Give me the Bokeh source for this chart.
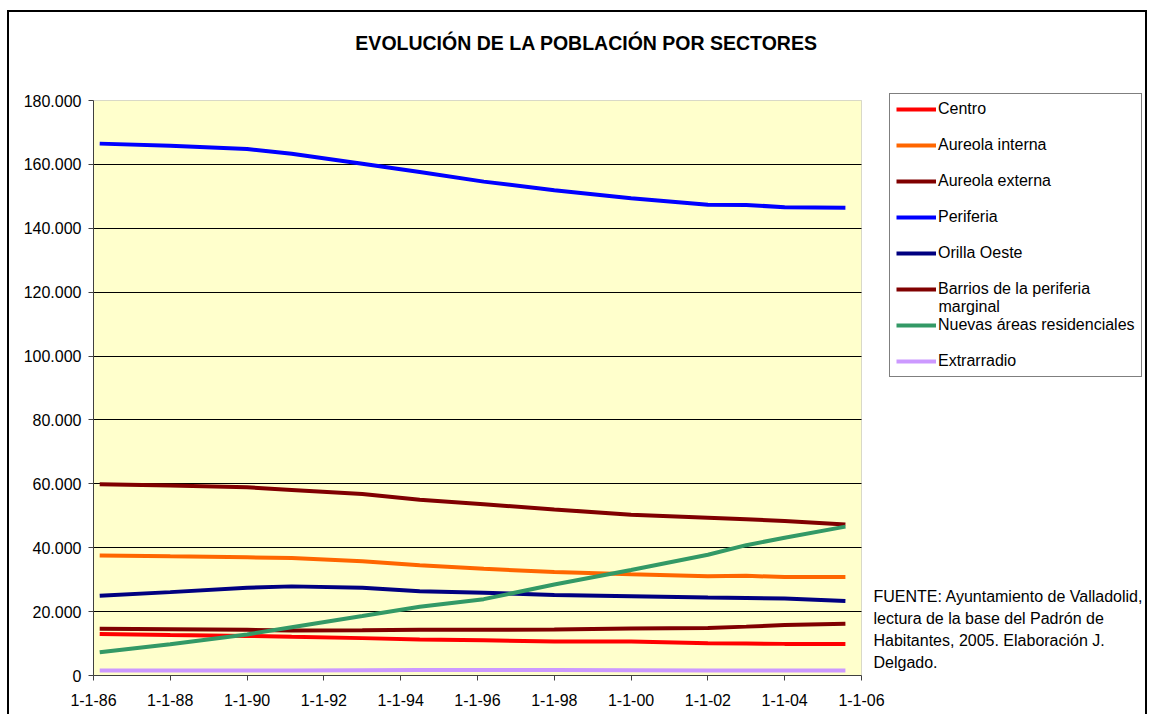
import pandas as pd
from bokeh.plotting import figure
from bokeh.models import (FixedTicker, Legend, LegendItem, Label, Range1d,
                          ColumnDataSource, BoxAnnotation)
from bokeh.embed import file_html
from bokeh.resources import INLINE

# ---------------- data ----------------
dates = ["1986-03-01", "1988-01-01", "1990-01-01", "1991-03-01", "1993-01-01",
         "1994-07-01", "1996-03-01", "1998-01-01", "2000-01-01", "2002-01-01",
         "2003-01-01", "2004-01-01", "2005-08-01"]

centro = [13000, 12700, 12400, 12100, 11700, 11300, 11000, 10650, 10650, 10100, 10000, 9900, 9850]
aureola_interna = [37600, 37300, 37000, 36800, 35800, 34500, 33400, 32400, 31700, 31100, 31200, 30800, 30850]
aureola_externa = [59900, 59500, 58900, 58100, 56800, 55000, 53600, 52000, 50300, 49400, 48900, 48400, 47300]
periferia = [166500, 165800, 164800, 163300, 160200, 157600, 154600, 151900, 149400, 147400, 147300, 146600, 146400]
orilla_oeste = [24950, 26100, 27500, 27900, 27500, 26400, 25900, 25200, 24800, 24400, 24250, 24100, 23300]
barrios = [14600, 14500, 14300, 14100, 14200, 14300, 14300, 14400, 14700, 14900, 15300, 15800, 16200]
nuevas = [7300, 9800, 12850, 15100, 18600, 21500, 23900, 28500, 33000, 37800, 40800, 43100, 46600]
extrarradio = [1600, 1600, 1600, 1600, 1650, 1700, 1700, 1700, 1650, 1600, 1600, 1600, 1600]

series_values = [centro, aureola_interna, aureola_externa, periferia, orilla_oeste,
                 barrios, nuevas, extrarradio]
# legend texts (the long one wraps onto a second line, "marginal")
legend_labels = ["Centro", "Aureola interna", "Aureola externa", "Periferia", "Orilla Oeste",
                 "Barrios de la periferia", "Nuevas áreas residenciales", "Extrarradio"]
legend_wrap_text = "marginal"
series_colors = ["#FF0000", "#FF6600", "#800000", "#0000FF", "#000080",
                 "#800000", "#339966", "#CC99FF"]

x_tick_dates = ["1986-01-01", "1988-01-01", "1990-01-01", "1992-01-01", "1994-01-01",
                "1996-01-01", "1998-01-01", "2000-01-01", "2002-01-01", "2004-01-01", "2006-01-01"]
x_tick_labels = ["1-1-86", "1-1-88", "1-1-90", "1-1-92", "1-1-94", "1-1-96",
                 "1-1-98", "1-1-00", "1-1-02", "1-1-04", "1-1-06"]
y_ticks = [0, 20000, 40000, 60000, 80000, 100000, 120000, 140000, 160000, 180000]
y_tick_labels = ["0", "20.000", "40.000", "60.000", "80.000", "100.000",
                 "120.000", "140.000", "160.000", "180.000"]

title_text = "EVOLUCIÓN DE LA POBLACIÓN POR SECTORES"
source_text = ("FUENTE: Ayuntamiento de Valladolid,\nlectura de la base del Padrón de\n"
               "Habitantes, 2005. Elaboración J.\nDelgado.")

FONT = "Liberation Sans"

# ---------------- layout constants (pixels) ----------------
W, H = 1140, 704
BORDER_L, BORDER_B = 84, 41
PLOT_W, PLOT_H = 768, 575          # the yellow plotting area
FRAME_W = W - BORDER_L             # frame covers everything right of the y axis
FRAME_H = H - BORDER_B             # ... and everything above the x axis

# ---------------- figure ----------------
x_dt = pd.to_datetime(dates)
tick_ms = [pd.Timestamp(d).value / 1e6 for d in x_tick_dates]
x0, x1 = tick_ms[0], tick_ms[-1]
y0, y1 = y_ticks[0], y_ticks[-1]
x_end = x0 + (x1 - x0) * FRAME_W / PLOT_W
y_end = y0 + (y1 - y0) * FRAME_H / PLOT_H

p = figure(width=W, height=H, x_axis_type="datetime",
           output_backend="svg", toolbar_location=None,
           x_range=Range1d(x0, x_end), y_range=Range1d(y0, y_end),
           min_border_left=BORDER_L, min_border_top=0,
           min_border_bottom=BORDER_B, min_border_right=0)
p.styles = {"border": "2px solid black", "border-bottom": "0px",
            "margin-left": "7px", "margin-top": "10px"}

p.background_fill_color = "white"
p.border_fill_color = "white"
p.outline_line_color = None

# plotting area (yellow, gray border)
p.add_layout(BoxAnnotation(left=x0, right=x1, bottom=y0, top=y1,
                           fill_color="#FFFFCC", fill_alpha=1,
                           line_color="#808080", line_width=1, level="image"))

# grid
p.xgrid.grid_line_color = None
p.ygrid.grid_line_color = "black"
p.ygrid.grid_line_width = 1
p.ygrid.ticker = FixedTicker(ticks=y_ticks[:-1])
p.ygrid.cross_bounds = (x0, x1)

# axes
p.xaxis.ticker = FixedTicker(ticks=tick_ms)
p.xaxis.major_label_overrides = {t: l for t, l in zip(tick_ms, x_tick_labels)}
p.xaxis.bounds = (x0, x1)
p.yaxis.ticker = FixedTicker(ticks=y_ticks)
p.yaxis.major_label_overrides = {t: l for t, l in zip(y_ticks, y_tick_labels)}
p.yaxis.bounds = (y0, y1)
for ax in (p.xaxis, p.yaxis):
    ax.axis_line_color = "#404040"
    ax.axis_line_width = 1
    ax.major_tick_line_color = "#404040"
    ax.major_tick_out = 5
    ax.major_tick_in = 0
    ax.minor_tick_line_color = None
    ax.major_label_text_font = FONT
    ax.major_label_text_font_size = "16px"
    ax.major_label_text_color = "black"
p.xaxis.major_label_standoff = 13
p.yaxis.major_label_standoff = 7

# lines
items = []
for name, vals, col in zip(legend_labels, series_values, series_colors):
    src = ColumnDataSource(dict(x=x_dt, y=vals))
    r = p.line("x", "y", source=src, line_color=col, line_width=4)
    items.append(LegendItem(label=name, renderers=[r]))

# title (inside the frame area, above the plotting area)
p.add_layout(Label(x=493, y=633, x_units="screen", y_units="screen", text=title_text,
                   text_font=FONT, text_font_size="19.5px", text_font_style="bold",
                   text_align="center", text_baseline="middle", text_color="black"))

# legend sits on the white area, so its own fill can stay transparent
legend = Legend(items=items, location=(796, 298),
                label_text_font=FONT, label_text_font_size="16px",
                label_text_color="black",
                glyph_width=40, glyph_height=18, label_height=18,
                spacing=18, padding=6, margin=0, label_standoff=2,
                border_line_color="black", border_line_width=1,
                background_fill_alpha=0)
p.add_layout(legend)

# second line of the wrapped legend entry
p.add_layout(Label(x=845, y=369, x_units="screen", y_units="screen", text=legend_wrap_text,
                   text_font=FONT, text_font_size="16px", text_align="left",
                   text_baseline="middle", text_color="black", level="overlay"))

# source note
p.add_layout(Label(x=780, y=88, x_units="screen", y_units="screen", text=source_text,
                   text_font=FONT, text_font_size="16px", text_baseline="top",
                   text_align="left", text_line_height=1.3, text_color="black"))

open("out.html", "w").write(file_html(p, INLINE))
